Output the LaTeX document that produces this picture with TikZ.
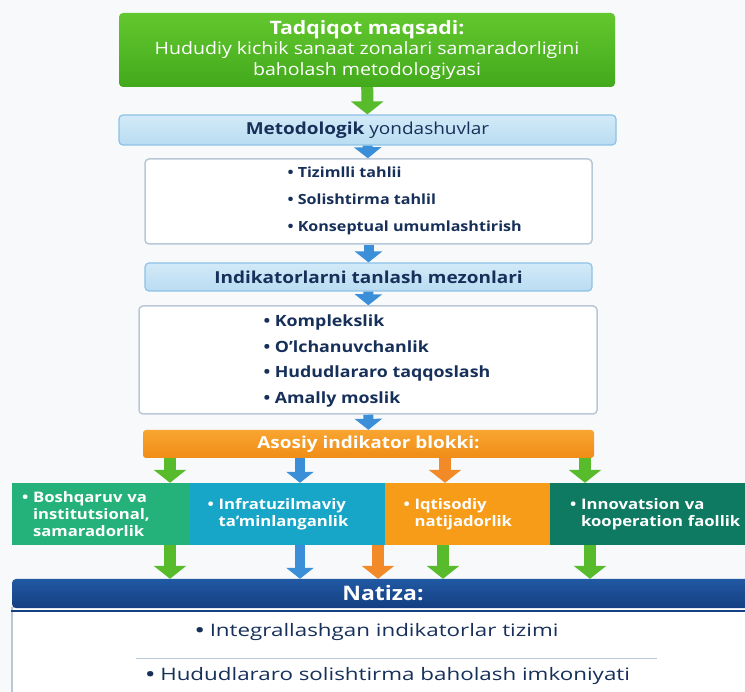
\documentclass[tikz,border=0pt]{standalone}
\usepackage{fontspec}
\setmainfont{Open Sans}[FakeStretch=1.15]
\newfontfamily\widefont{Open Sans}[FakeStretch=1.3]
\usetikzlibrary{arrows.meta, positioning}
\definecolor{bgc}{HTML}{F7F9FB}
\definecolor{goalA}{HTML}{63C82E}
\definecolor{goalB}{HTML}{42A91C}
\definecolor{lblueA}{HTML}{D3EAF8}
\definecolor{lblueB}{HTML}{B9DCF2}
\definecolor{lbluebd}{HTML}{8DC2E6}
\definecolor{navy}{HTML}{17305A}
\definecolor{grayb}{HTML}{B9C8D8}
\definecolor{oranA}{HTML}{F8A531}
\definecolor{oranB}{HTML}{F08D16}
\definecolor{colA}{HTML}{25B27A}
\definecolor{colB}{HTML}{17A5C8}
\definecolor{colC}{HTML}{F69C18}
\definecolor{colD}{HTML}{0F7A62}
\definecolor{natA}{HTML}{2159A3}
\definecolor{natB}{HTML}{143F82}
\definecolor{garr}{HTML}{57BB2C}
\definecolor{barr}{HTML}{3B8FD9}
\definecolor{oarr}{HTML}{F28A27}
\newcommand{\pnt}{{\bfseries\textbullet}\ }
\newcommand{\hng}{\phantom{{\bfseries\textbullet}\ }}

\begin{document}
\begin{tikzpicture}[x=1pt,y=-1pt,
    goalbox/.style={rectangle, rounded corners=4pt, minimum width=496, minimum height=74,
      top color=goalA, bottom color=goalB, text=white, align=center,
      font=\fontsize{17}{20.5}\selectfont},
    headbox/.style={rectangle, rounded corners=4pt, draw=lbluebd, line width=1.2pt,
      top color=lblueA, bottom color=lblueB, text=navy, font=\fontsize{16.5}{18}\selectfont},
    listbox/.style={rectangle, rounded corners=4pt, draw=grayb, line width=1.5pt, fill=white},
    listtext/.style={anchor=west, align=left, text=navy, font=\bfseries\fontsize{14}{27}\selectfont},
    blokbox/.style={rectangle, rounded corners=3pt, top color=oranA, bottom color=oranB,
      text=white, font=\fontsize{16.5}{18}\selectfont},
    colbox/.style={rectangle, minimum height=62, inner xsep=0pt, text=white, align=left,
      font=\bfseries\fontsize{14.5}{17}\selectfont},
    garrow/.style={draw=garr, line width=12pt, -{Triangle[width=32pt,length=13pt]}},
    barrow/.style={draw=barr, line width=10pt, -{Triangle[width=27pt,length=11pt]}},
    oarrow/.style={draw=oarr, line width=12pt, -{Triangle[width=32pt,length=13pt]}}]
  \useasboundingbox (0,0) rectangle (745,692);
  \clip (0,0) rectangle (745,692);
  \fill[bgc] (0,0) rectangle (745,692);
  % top part
  \node[goalbox] (goal) at (367,50) {{\bfseries\fontsize{18.5}{20.5}\selectfont Tadqiqot maqsadi:}\\
    Hududiy kichik sanaat zonalari samaradorligini\\ baholash metodologiyasi};
  \node[headbox, minimum width=497, minimum height=30] (metod) at (367.5,130)
    {\textbf{Metodologik} yondashuvlar};
  \node[listbox, minimum width=447, minimum height=85] (usul) at (368.5,201.5) {};
  \node[listtext] (usultxt) at (284,201) {\pnt Tizimlli tahlii\\ \pnt Solishtirma tahlil\\
    \pnt Konseptual umumlashtirish};
  \node[headbox, minimum width=447, minimum height=28] (mezon) at (368.5,277)
    {\textbf{Indikatorlarni tanlash mezonlari}};
  \node[listbox, minimum width=458, minimum height=108] (crit) at (368,360) {};
  \node[listtext, font=\bfseries\fontsize{15.5}{25.5}\selectfont] (crittxt) at (260,361)
    {\pnt Komplekslik\\ \pnt O'lchanuvchanlik\\ \pnt Hududlararo taqqoslash\\ \pnt Amally moslik};
  \node[blokbox, minimum width=451, minimum height=28] (blok) at (368.5,444)
    {\textbf{Asosiy indikator blokki:}};
  % indicator blocks
  \node[colbox, fill=colA, minimum width=178, text width=158] (b1) at (101,514)
    {\pnt Boshqaruv va\\ \hng institutsional,\\ \hng samaradorlik};
  \node[colbox, fill=colB, minimum width=195, text width=160] (b2) at (287.5,514)
    {\pnt Infratuzilmaviy\\ \hng ta'minlanganlik};
  \node[colbox, fill=colC, minimum width=165, text width=128] (b3) at (467.5,514)
    {\pnt Iqtisodiy\\ \hng natijadorlik};
  \node[colbox, fill=colD, minimum width=230, text width=190] (b4) at (665,514)
    {\pnt Innovatsion va\\ \hng kooperation faollik};
  % result
  \node[rectangle, draw=grayb, line width=1.5pt, fill=white, minimum width=742,
    minimum height=93] (natres) at (383,654) {};
  \node[rectangle, rounded corners=4pt, top color=natA, bottom color=natB, text=white,
    minimum width=742, minimum height=29, font=\bfseries\fontsize{20}{22}\selectfont]
    (natiza) at (383,593.5) {Natiza:};
  \draw[natB, line width=2.5pt] ([yshift=-4pt]natres.north west) -- ([yshift=-4pt]natres.north east);
  \draw[grayb, line width=1pt] (natres.center) ++(-247,4) -- ++(521,0);
  \node[text=navy, font=\widefont\fontsize{17.2}{22}\selectfont] (nat1) at (377,632)
    {\pnt Integrallashgan indikatorlar tizimi};
  \node[text=navy, font=\widefont\fontsize{17.2}{22}\selectfont] (nat2) at (388,676)
    {\pnt Hududlararo solishtirma baholash imkoniyati};
  % vertical arrows
  \draw[garrow] (goal) -- (metod);
  \draw[barrow] (metod) -- (usul);
  \draw[barrow] (usul) -- (mezon);
  \draw[barrow] (mezon) -- (crit);
  \draw[barrow] (crit) -- (blok);
  \draw[garrow] (blok.south -| 170,0) -- (b1.north -| 170,0);
  \draw[barrow] (blok.south -| 300,0) -- (b2.north -| 300,0);
  \draw[oarrow] (blok.south -| 445,0) -- (b3.north -| 445,0);
  \draw[garrow] (blok.south -| 585,0) -- (b4.north -| 585,0);
  \draw[garrow] (b1.south -| 170,0) -- (natiza.north -| 170,0);
  \draw[barrow] (b2.south -| 300,0) -- (natiza.north -| 300,0);
  \draw[oarrow] (b2.south -| 378,0) -- (natiza.north -| 378,0);
  \draw[garrow] (b3.south -| 443,0) -- (natiza.north -| 443,0);
  \draw[garrow] (b4.south -| 590,0) -- (natiza.north -| 590,0);
\end{tikzpicture}
\end{document}
